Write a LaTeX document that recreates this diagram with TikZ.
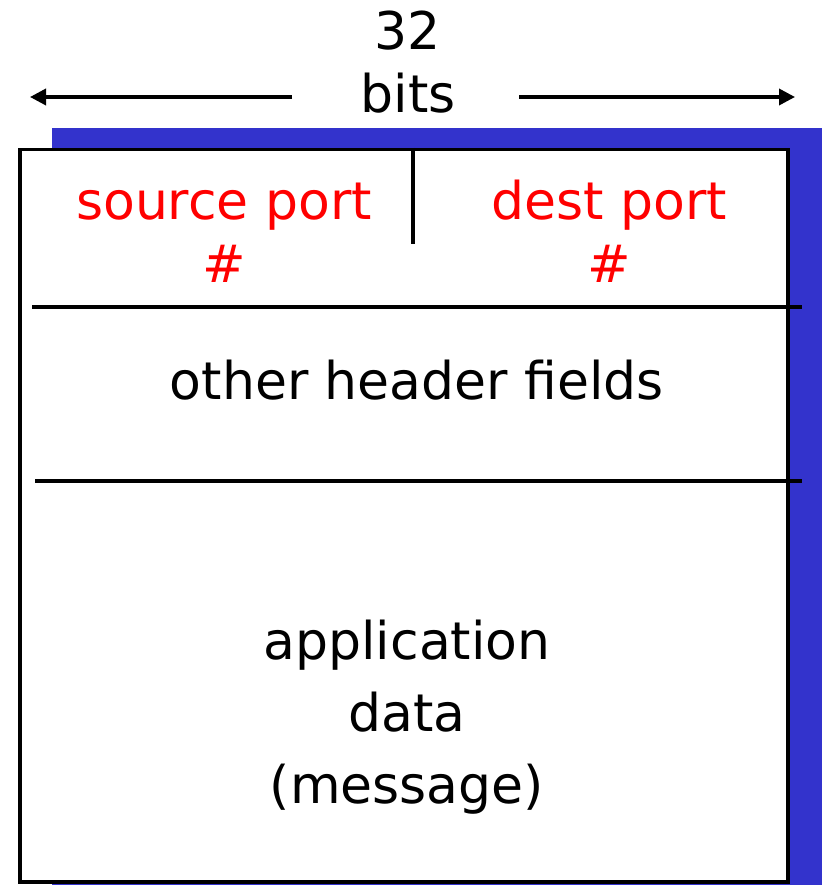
\documentclass[tikz,border=0pt]{standalone}
\usepackage{fontspec}
\setmainfont{DejaVu Sans}
\usetikzlibrary{arrows.meta}
\definecolor{shadowblue}{RGB}{51,51,204}
\definecolor{portred}{RGB}{255,0,0}
\tikzset{
  rule/.style={line width=3.5pt, black},
  lbl/.style={font=\fontsize{52}{60}\selectfont, inner sep=0pt, anchor=base},
  redlbl/.style={lbl, text=portred},
  dimarrow/.style={line width=3.5pt, -{Triangle[length=16pt,width=16pt]}},
}
\begin{document}
\begin{tikzpicture}[x=1pt,y=-1pt]
  \useasboundingbox (0,0) rectangle (822,885);
  % drop shadow and segment box
  \fill[shadowblue] (52,128) rectangle (822,885);
  \node[draw, rule, fill=white, minimum width=768pt, minimum height=732pt, inner sep=0pt, anchor=north west] (seg) at (18,148) {};
  % width label
  \node[lbl] (n32) at (408,50) {32};
  \node[lbl] (bits) at (408,113) {bits};
  \coordinate (lend) at (30,97);
  \coordinate (rend) at (795,97);
  \draw[dimarrow] (292,97) coordinate (lstart) -- (lend);
  \draw[dimarrow] (519,97) coordinate (rstart) -- (rend);
  % field separators
  \coordinate (vtop) at (413,148);
  \coordinate (vbot) at (413,244);
  \draw[rule] (vtop) -- (vbot);
  \coordinate (h1a) at (32,307);
  \coordinate (h1b) at (802,307);
  \draw[rule] (h1a) -- (h1b);
  \coordinate (h2a) at (35,481);
  \coordinate (h2b) at (802,481);
  \draw[rule] (h2a) -- (h2b);
  % field labels
  \node[redlbl] (src) at (224,220) {source port};
  \node[redlbl] (srch) at (224,282) {\#};
  \node[redlbl] (dst) at (609,220) {dest port};
  \node[redlbl] (dsth) at (609,282) {\#};
  \node[lbl] (other) at (417,399) {other header fields};
  \node[lbl] (app) at (407,659) {application};
  \node[lbl] (data) at (407,731) {data};
  \node[lbl] (msg) at (407,803) {(message)};
\end{tikzpicture}
\end{document}
